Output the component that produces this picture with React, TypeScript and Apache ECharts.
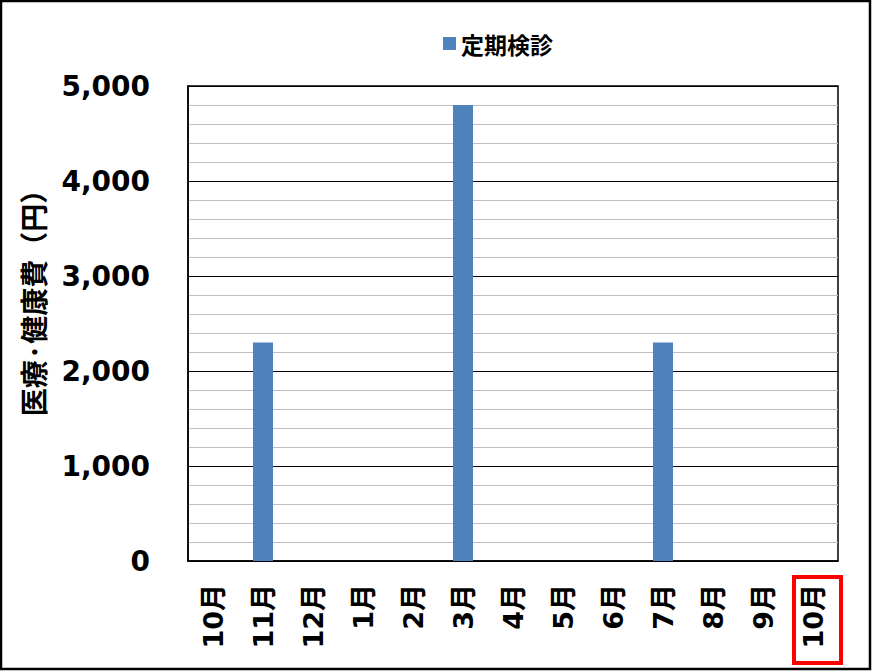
import React, { useEffect, useRef } from "react";
import * as echarts from "echarts";

const categories = ["10月", "11月", "12月", "1月", "2月", "3月", "4月", "5月", "6月", "7月", "8月", "9月", "10月"];
const checkupValues = [0, 2300, 0, 0, 0, 4800, 0, 0, 0, 2300, 0, 0, 0];
const seriesName = "定期検診";
const yAxisName = "医療·健康費（円）";

const FONT = "'DejaVu Sans', 'Noto Sans CJK JP', sans-serif";
const CJK = "'Noto Sans CJK JP', sans-serif";

export default function App() {
  const ref = useRef<HTMLDivElement>(null);
  useEffect(() => {
    if (!ref.current) return;
    const chart = echarts.init(ref.current, null, { renderer: "svg" });
    chart.setOption({
      animation: false,
      backgroundColor: "#fff",
      legend: {
        data: [seriesName],
        top: 27,
        left: 438,
        itemWidth: 13,
        itemHeight: 13,
        itemGap: 7,
        icon: "rect",
        textStyle: { fontSize: 23, fontWeight: "bold", color: "#000", fontFamily: CJK },
      },
      grid: {
        left: 188,
        top: 86,
        width: 650,
        height: 475,
        show: true,
        borderColor: "#000",
        borderWidth: 1.5,
        containLabel: false,
      },
      xAxis: {
        type: "category",
        data: categories,
        axisLine: { lineStyle: { color: "#000", width: 1.5 } },
        axisTick: { show: false },
        axisLabel: {
          rotate: 90,
          interval: 0,
          margin: 23,
          fontSize: 27,
          fontWeight: "bold",
          color: "#000",
          fontFamily: FONT,
        },
      },
      yAxis: {
        type: "value",
        min: 0,
        max: 5000,
        interval: 1000,
        axisLine: { show: true, lineStyle: { color: "#000", width: 1.5 } },
        axisTick: { show: false },
        minorTick: { show: false, splitNumber: 5 },
        minorSplitLine: { show: true, lineStyle: { color: "#bfbfbf", width: 1 } },
        splitLine: { show: true, lineStyle: { color: "#000", width: 1 } },
        axisLabel: {
          margin: 38,
          fontSize: 28,
          fontWeight: "bold",
          color: "#000",
          fontFamily: FONT,
          formatter: (v: number) => v.toLocaleString("en-US"),
        },
      },
      series: [
        {
          name: seriesName,
          type: "bar",
          data: checkupValues,
          barWidth: 20,
          itemStyle: { color: "#4f81bd" },
        },
      ],
      graphic: [
        {
          type: "text",
          x: 33,
          y: 296,
          rotation: Math.PI / 2,
          style: {
            text: yAxisName,
            fontSize: 28,
            fontWeight: "bold",
            fill: "#000",
            fontFamily: CJK,
            align: "center",
            verticalAlign: "middle",
          },
          silent: true,
        },
        {
          type: "rect",
          shape: { x: 1, y: 1, width: 869, height: 668 },
          style: { fill: "none", stroke: "#000", lineWidth: 2.5 },
          silent: true,
        },
        {
          type: "rect",
          shape: { x: 794, y: 577, width: 47, height: 86 },
          style: { fill: "none", stroke: "#ff0000", lineWidth: 4 },
          silent: true,
        },
      ],
    });
    return () => chart.dispose();
  }, []);
  return (
    <div
      ref={ref}
      style={{ position: "absolute", left: 0, top: 0, width: 872, height: 671 }}
    />
  );
}
